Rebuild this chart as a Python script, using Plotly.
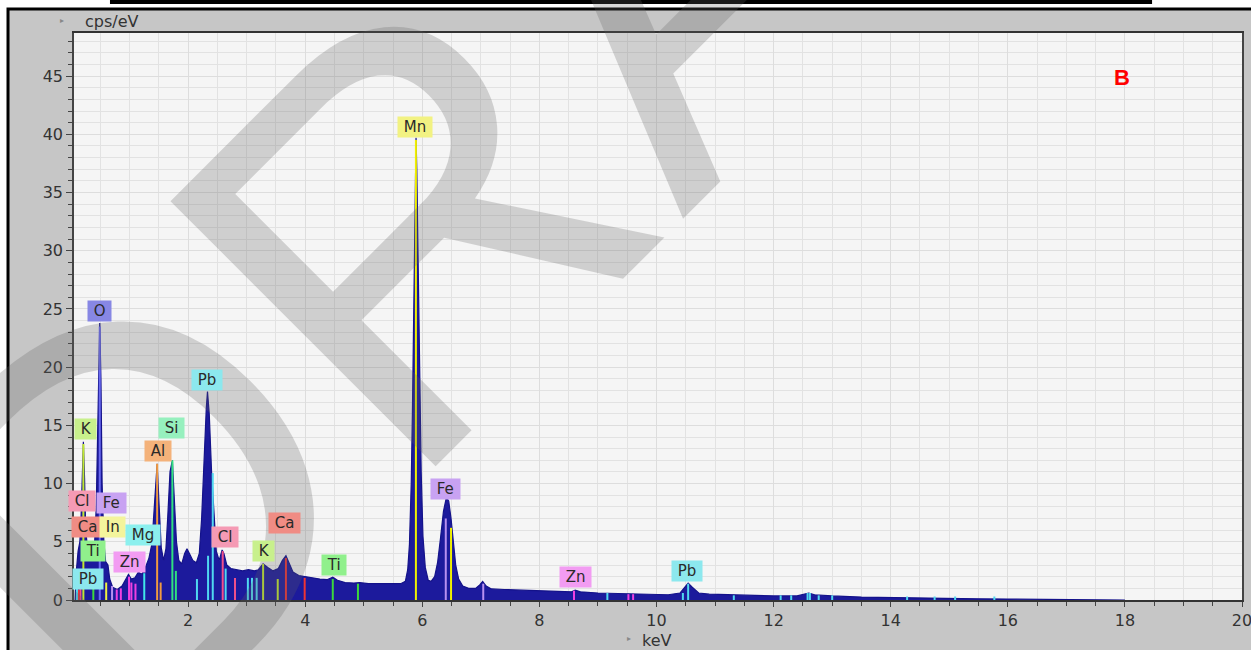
import plotly.graph_objects as go

# ---------------- data ----------------
spectrum_kev = [0.07, 0.09, 0.12, 0.15, 0.17, 0.19, 0.21, 0.23, 0.25, 0.28, 0.32, 0.36, 0.40, 0.43, 0.46,
                0.49, 0.51, 0.53, 0.56, 0.59, 0.63, 0.66, 0.71, 0.79, 0.87, 0.92, 0.98, 1.03, 1.09, 1.15,
                1.21, 1.27, 1.33, 1.38, 1.42, 1.47, 1.50, 1.54, 1.58, 1.62, 1.65, 1.69, 1.73, 1.76, 1.80,
                1.84, 1.89, 1.94, 1.98, 2.03, 2.08, 2.14, 2.19, 2.23, 2.27, 2.31, 2.33, 2.36, 2.40, 2.44,
                2.48, 2.53, 2.58, 2.61, 2.66, 2.73, 2.83, 2.93, 3.03, 3.13, 3.20, 3.28, 3.36, 3.45, 3.54,
                3.61, 3.67, 3.72, 3.79, 3.89, 3.99, 4.10, 4.25, 4.38, 4.47, 4.55, 4.68, 4.83, 4.93, 5.08,
                5.28, 5.48, 5.63, 5.71, 5.75, 5.78, 5.81, 5.83, 5.86, 5.88, 5.892, 5.905, 5.925, 5.955, 5.98,
                6.01, 6.05, 6.10, 6.15, 6.21, 6.26, 6.31, 6.36, 6.41, 6.45, 6.49, 6.53, 6.57, 6.62, 6.69,
                6.79, 6.91, 6.98, 7.03, 7.09, 7.18, 7.40, 7.70, 8.00, 8.30, 8.55, 8.61, 8.70, 9.00, 9.30,
                9.60, 9.90, 10.20, 10.40, 10.49, 10.54, 10.61, 10.72, 10.90, 11.20, 11.60, 12.00, 12.40, 12.53, 12.60,
                12.70, 13.00, 13.50, 14.00, 14.50, 15.00, 15.50, 16.00, 16.50, 17.00, 17.50, 17.90, 18.00]
spectrum_cps = [0.0, 2.5, 4.2, 5.0, 7.0, 11.0, 13.6, 10.5, 6.0, 4.5, 4.0, 3.8, 4.6, 8.0, 15.0,
                23.8, 19.0, 10.0, 5.0, 3.3, 3.0, 1.8, 1.1, 0.9, 1.2, 1.6, 2.2, 1.8, 1.9, 2.4,
                2.2, 2.8, 3.6, 4.8, 8.0, 11.7, 8.5, 4.5, 3.4, 4.4, 7.0, 11.0, 12.0, 9.0, 5.0,
                3.4, 3.1, 4.0, 4.4, 3.9, 3.4, 3.2, 4.0, 7.0, 12.0, 16.5, 17.9, 16.0, 11.0, 7.0,
                4.2, 3.4, 4.3, 4.0, 3.0, 2.7, 2.6, 2.5, 2.6, 2.5, 2.6, 3.1, 2.8, 2.5, 2.7,
                3.4, 3.8, 3.2, 2.4, 2.1, 2.0, 1.9, 1.8, 1.75, 1.95, 1.7, 1.5, 1.45, 1.5, 1.4,
                1.4, 1.35, 1.4, 1.6, 2.6, 4.8, 10.0, 16.0, 27.0, 35.5, 39.7, 37.0, 29.0, 19.0, 11.0,
                5.5, 2.8, 1.7, 1.6, 2.0, 3.2, 5.3, 7.6, 8.8, 8.5, 7.0, 4.8, 3.0, 1.8, 1.2,
                1.0, 1.0, 1.3, 1.6, 1.2, 0.95, 0.9, 0.85, 0.8, 0.75, 0.7, 0.85, 0.7, 0.6, 0.55,
                0.5, 0.45, 0.45, 0.6, 1.2, 1.45, 1.1, 0.6, 0.5, 0.45, 0.4, 0.35, 0.35, 0.5, 0.6,
                0.45, 0.35, 0.25, 0.2, 0.15, 0.13, 0.1, 0.08, 0.06, 0.05, 0.03, 0.02, 0.0]

# element marker lines inside the spectrum
marker_element = ["O", "K", "K", "K", "Cl", "Cl", "Cl", "Ca", "Ca", "Ca", "Ti", "Ti", "Ti",
                  "Fe", "Fe", "Fe", "In", "Zn", "Zn", "Zn", "Zn", "Zn", "Zn", "Zn", "Zn", "Mg",
                  "Al", "Al", "Si", "Si", "Mn", "Mn",
                  "Pb", "Pb", "Pb", "Pb", "Pb", "Pb", "Pb", "Pb", "Pb", "Pb", "Pb", "Pb", "Pb",
                  "Pb", "Pb", "Pb", "Pb", "Pb", "Pb", "Pb", "Pb", "Pb"]
marker_kev = [0.49, 0.21, 3.28, 3.53, 0.16, 2.59, 2.80, 0.13, 3.67, 3.99, 0.38, 4.47, 4.90,
              6.40, 7.04, 0.70, 0.60, 0.78, 0.85, 0.99, 1.03, 1.10, 8.59, 9.52, 9.60, 1.25,
              1.47, 1.53, 1.73, 1.79, 5.89, 6.49,
              0.10, 2.15, 2.34, 2.42, 2.64, 3.02, 3.09, 3.17, 9.16, 10.45, 10.54, 11.32, 12.12,
              12.30, 12.58, 12.62, 12.77, 13.00, 14.28, 14.75, 15.10, 15.77]
marker_cps = [23.5, 13.4, 3.1, 1.8, 1.0, 4.2, 1.9, 0.9, 3.6, 1.9, 1.0, 1.8, 1.4,
              7.0, 1.4, 1.2, 1.5, 0.9, 1.0, 2.0, 1.5, 1.4, 0.8, 0.5, 0.5, 2.3,
              11.7, 1.5, 12.0, 2.5, 39.5, 6.2,
              1.0, 1.8, 3.8, 10.9, 2.7, 1.9, 1.9, 1.9, 0.6, 0.6, 1.4, 0.4, 0.4,
              0.4, 0.6, 0.6, 0.4, 0.4, 0.3, 0.3, 0.3, 0.3]

# element labels
label_element = ["Cl", "Fe", "Ca", "In", "K", "O", "Ti", "Zn", "Mg", "Pb", "Al", "Si", "Pb",
                 "Cl", "K", "Ca", "Ti", "Mn", "Fe", "Zn", "Pb"]
label_kev = [0.19, 0.69, 0.28, 0.71, 0.24, 0.49, 0.37, 0.99, 1.23, 0.29, 1.48, 1.72, 2.32,
             2.63, 3.28, 3.65, 4.49, 5.87, 6.40, 8.62, 10.52]
label_cps = [8.5, 8.3, 6.3, 6.3, 14.7, 24.8, 4.2, 3.3, 5.6, 1.8, 12.8, 14.8, 18.9,
             5.4, 4.2, 6.6, 3.0, 40.6, 9.5, 2.0, 2.5]

x_tick_step = 2
y_tick_step = 5
x_range = [0.05, 20]
y_range = [0, 48.7]

# ---------------- styles ----------------
LINE_COLOR = {"O": "#6a6af0", "K": "#c0e830", "Cl": "#f0508a", "Ca": "#f03434", "Ti": "#3cd83c",
              "Fe": "#b890f0", "In": "#f0f040", "Zn": "#f040e0", "Mg": "#40e8e8", "Al": "#f09a40",
              "Si": "#30e080", "Mn": "#f0f000", "Pb": "#50d8f0"}
LABEL_BG = {"O": "#8787e4", "K": "#c8f08c", "Cl": "#f59ab4", "Ca": "#f08c84", "Ti": "#90f08c",
            "Fe": "#c8a2f2", "In": "#f4f49c", "Zn": "#f29cf2", "Mg": "#8cf0ee", "Al": "#f4b27a",
            "Si": "#96f0be", "Mn": "#f2f282", "Pb": "#8ce8ee"}

FONT = "DejaVu Sans"

fig = go.Figure()
fig.add_trace(go.Scatter(x=spectrum_kev, y=spectrum_cps, mode="lines", fill="tozeroy",
                         line=dict(color="#14128a", width=1.2), fillcolor="#1c1a9c",
                         hoverinfo="skip", showlegend=False))

seen = []
for el in marker_element:
    if el not in seen:
        seen.append(el)
for el in seen:
    xs, ys = [], []
    for e, k, c in zip(marker_element, marker_kev, marker_cps):
        if e == el:
            xs += [k, k, None]
            ys += [0, c, None]
    fig.add_trace(go.Scatter(x=xs, y=ys, mode="lines", line=dict(color=LINE_COLOR[el], width=2),
                             hoverinfo="skip", showlegend=False))

annotations = []
# watermark
annotations.append(dict(text="DRAFT", xref="paper", yref="paper", x=0.48, y=1.058,
                        showarrow=False, textangle=-45, xanchor="center", yanchor="middle",
                        font=dict(family="Liberation Sans", size=545, color="rgba(95,95,95,0.25)")))
for el, k, c in zip(label_element, label_kev, label_cps):
    annotations.append(dict(text="\u00a0" + el + "\u00a0", x=k, y=c, xref="x", yref="y", showarrow=False,
                            bgcolor=LABEL_BG[el], borderpad=1, xanchor="center", yanchor="middle",
                            font=dict(family=FONT, size=15, color="#2a2a2a")))
annotations.append(dict(text="<b>B</b>", x=17.95, y=44.9, xref="x", yref="y", showarrow=False,
                        font=dict(family="Liberation Sans", size=22, color="#ff0000")))
annotations.append(dict(text="cps/eV", xref="paper", yref="paper", x=0.0077, y=1.02,
                        showarrow=False, xanchor="left", yanchor="middle",
                        font=dict(family=FONT, size=16, color="#333333")))
annotations.append(dict(text="▸", xref="paper", yref="paper", x=-0.0103, y=1.022,
                        showarrow=False, xanchor="center", yanchor="middle",
                        font=dict(family=FONT, size=8, color="#888888")))
annotations.append(dict(text="keV", xref="paper", yref="paper", x=0.499, y=-0.071,
                        showarrow=False, xanchor="center", yanchor="middle",
                        font=dict(family=FONT, size=16, color="#333333")))
annotations.append(dict(text="▸", xref="paper", yref="paper", x=0.475, y=-0.068,
                        showarrow=False, xanchor="center", yanchor="middle",
                        font=dict(family=FONT, size=8, color="#888888")))

shapes = [
    # outer grey panel with black frame
    dict(type="rect", xref="paper", yref="paper", x0=-0.0565, x1=1.02, y0=-0.12, y1=1.0423,
         fillcolor="#c6c6c6", line=dict(color="#000000", width=3), layer="below"),
    # plot area background
    dict(type="rect", xref="paper", yref="paper", x0=0, x1=1, y0=0, y1=1,
         fillcolor="#f5f5f5", line=dict(width=0), layer="below"),
    # black table edge at very top
    dict(type="rect", xref="paper", yref="paper", x0=0.0308, x1=0.923, y0=1.0511, y1=1.06,
         fillcolor="#000000", line=dict(width=0), layer="below"),
]

fig.update_layout(
    width=1251, height=650,
    margin=dict(l=74, r=9, t=33, b=50, autoexpand=False),
    paper_bgcolor="#ffffff",
    plot_bgcolor="rgba(0,0,0,0)",
    showlegend=False,
    annotations=annotations,
    shapes=shapes,
    xaxis=dict(range=x_range, tickmode="linear", tick0=0, dtick=x_tick_step, automargin=False,
               ticklabeloverflow="allow",
               showgrid=True, gridcolor="#dddddd", gridwidth=1,
               ticks="outside", ticklen=5, tickcolor="#444444", tickwidth=1,
               minor=dict(tickmode="linear", tick0=0, dtick=0.5, ticks="outside", ticklen=4,
                          tickcolor="#444444", showgrid=True, gridcolor="#e2e2e2"),
               showline=True, linecolor="#333333", linewidth=1.5, mirror=True,
               zeroline=False,
               tickfont=dict(family=FONT, size=16, color="#333333")),
    yaxis=dict(range=y_range, tickmode="linear", tick0=0, dtick=y_tick_step, automargin=False,
               showgrid=True, gridcolor="#dddddd", gridwidth=1,
               ticks="outside", ticklen=6, tickcolor="#444444", tickwidth=1,
               minor=dict(tickmode="linear", tick0=0, dtick=1, ticks="outside", ticklen=4,
                          tickcolor="#444444", showgrid=True, gridcolor="#e2e2e2"),
               showline=True, linecolor="#444444", linewidth=1.5, mirror=True,
               zeroline=False,
               tickfont=dict(family=FONT, size=16, color="#333333")),
)

fig.write_html("out.html", config={"displayModeBar": False},
               post_script="document.body.style.margin='0';")
